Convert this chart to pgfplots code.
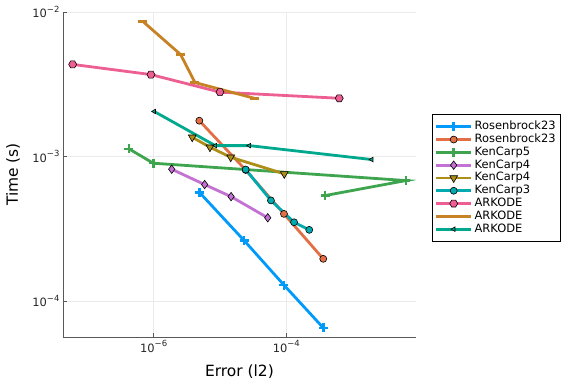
\documentclass[border=0pt]{standalone}
\usepackage{pgfplots}
\pgfplotsset{compat=1.18}
\usepackage{fontspec}
\setmainfont{DejaVu Sans}
\definecolor{c1}{RGB}{0,154,250}
\definecolor{c2}{RGB}{227,111,71}
\definecolor{c3}{RGB}{62,164,78}
\definecolor{c4}{RGB}{195,113,210}
\definecolor{c5}{RGB}{172,142,24}
\definecolor{c6}{RGB}{0,170,174}
\definecolor{c7}{RGB}{237,94,147}
\definecolor{c8}{RGB}{198,130,37}
\definecolor{c9}{RGB}{0,169,141}
\pgfdeclareplotmark{hexagon*}{%
  \pgfpathmoveto{\pgfqpointpolar{0}{\pgfplotmarksize}}%
  \pgfpathlineto{\pgfqpointpolar{60}{\pgfplotmarksize}}%
  \pgfpathlineto{\pgfqpointpolar{120}{\pgfplotmarksize}}%
  \pgfpathlineto{\pgfqpointpolar{180}{\pgfplotmarksize}}%
  \pgfpathlineto{\pgfqpointpolar{240}{\pgfplotmarksize}}%
  \pgfpathlineto{\pgfqpointpolar{300}{\pgfplotmarksize}}%
  \pgfpathclose
  \pgfusepathqfillstroke}
\newcommand{\tl}[1]{10\raisebox{0.85ex}{\fontsize{8.5}{9}\selectfont −#1}}
\begin{document}
\begin{tikzpicture}
\begin{axis}[
  at={(63bp,47bp)}, anchor=south west,
  scale only axis, width=353bp, height=325bp,
  xmode=log, ymode=log,
  xmin=4.29e-8, xmax=9.04e-3,
  ymin=5.64e-5, ymax=1e-2,
  xtick={1e-6,1e-4}, xticklabels={\tl{6},\tl{4}},
  ytick={1e-4,1e-3,1e-2}, yticklabels={\tl{4},\tl{3},\tl{2}},
  minor tick num=0, log ticks with fixed point=false,
  xminorticks=false, yminorticks=false,
  axis lines*=left,
  axis line style={black!65, line width=0.9bp, -},
  tick style={black!65, line width=0.9bp},
  tick align=inside, major tick length=4bp,
  grid=major, major grid style={black!8, line width=0.6bp},
  ticklabel style={font=\fontsize{11.5}{13}\selectfont, text=black!85},
  xlabel={Error (l2)}, ylabel={Time (s)},
  label style={font=\fontsize{15.5}{18}\selectfont},
  xlabel style={at={(axis description cs:0.5,-0.1077)}, anchor=center},
  ylabel style={at={(axis description cs:-0.1416,0.5)}, anchor=center},
  every axis plot/.append style={line width=2.8bp},
  legend style={at={(axis description cs:1.0453,0.686)}, anchor=north west,
    draw=black, line width=0.6bp, inner xsep=2.5bp, inner ysep=6bp,
    font=\fontsize{11.5}{13}\selectfont,
    nodes={text height=9bp, text depth=3bp, inner ysep=0.4bp, inner xsep=2bp},
    row sep=0pt},
  legend cell align=left,
  legend image code/.code={\draw[mark repeat=2,mark phase=2] plot coordinates {(0bp,0bp) (17.5bp,0bp) (35bp,0bp)};},
]
\addplot[c1, mark=+, mark size=4.5bp, mark options={line width=2.5bp}] coordinates {
 (4.88e-6,5.66e-4) (2.32e-5,2.62e-4) (9.23e-5,1.29e-4) (3.61e-4,6.53e-5)};
\addlegendentry{Rosenbrock23}
\addplot[c2, mark=*, mark size=3.5bp, mark options={fill=c2, draw=black, line width=0.6bp}] coordinates {
 (4.88e-6,1.77e-3) (2.44e-5,8.07e-4) (9.23e-5,4.01e-4) (3.61e-4,1.96e-4)};
\addlegendentry{Rosenbrock23}
\addplot[c3, mark=+, mark size=4.5bp, mark options={line width=2.5bp}] coordinates {
 (4.24e-7,1.13e-3) (9.86e-7,8.99e-4) (6.38e-3,6.82e-4) (3.84e-4,5.37e-4)};
\addlegendentry{KenCarp5}
\addplot[c4, mark=diamond*, mark size=4.2bp, mark options={fill=c4, draw=black, line width=0.6bp}] coordinates {
 (1.87e-6,8.17e-4) (5.87e-6,6.40e-4) (1.47e-5,5.28e-4) (5.25e-5,3.77e-4)};
\addlegendentry{KenCarp4}
\addplot[c5, mark=triangle*, mark size=4.5bp, mark options={fill=c5, draw=black, line width=0.6bp, rotate=180}] coordinates {
 (3.82e-6,1.36e-3) (7.06e-6,1.16e-3) (1.45e-5,9.89e-4) (9.33e-5,7.59e-4)};
\addlegendentry{KenCarp4}
\addplot[c6, mark=*, mark size=3.5bp, mark options={fill=c6, draw=black, line width=0.6bp}] coordinates {
 (2.44e-5,8.13e-4) (5.87e-5,4.97e-4) (1.31e-4,3.51e-4) (2.22e-4,3.11e-4)};
\addlegendentry{KenCarp3}
\addplot[c7, mark=hexagon*, mark size=4bp, mark options={fill=c7, draw=black, line width=0.6bp}] coordinates {
 (6.0e-8,4.34e-3) (9.1e-7,3.69e-3) (1.0e-5,2.79e-3) (6.29e-4,2.53e-3)};
\addlegendentry{ARKODE}
\addplot[c8, mark=-, mark size=4.5bp, mark options={line width=2.8bp}] coordinates {
 (6.90e-7,8.59e-3) (2.55e-6,5.08e-3) (4.20e-6,3.25e-3) (3.29e-5,2.53e-3)};
\addlegendentry{ARKODE}
\addplot[c9, mark=triangle*, mark size=2.6bp, mark options={fill=c9, draw=black, line width=0.6bp, rotate=90}] coordinates {
 (1.02e-6,2.05e-3) (8.49e-6,1.19e-3) (2.77e-5,1.19e-3) (1.94e-3,9.53e-4)};
\addlegendentry{ARKODE}
\end{axis}
\pgfresetboundingbox
\path (0,0) rectangle (576bp,384bp);
\end{tikzpicture}
\end{document}
